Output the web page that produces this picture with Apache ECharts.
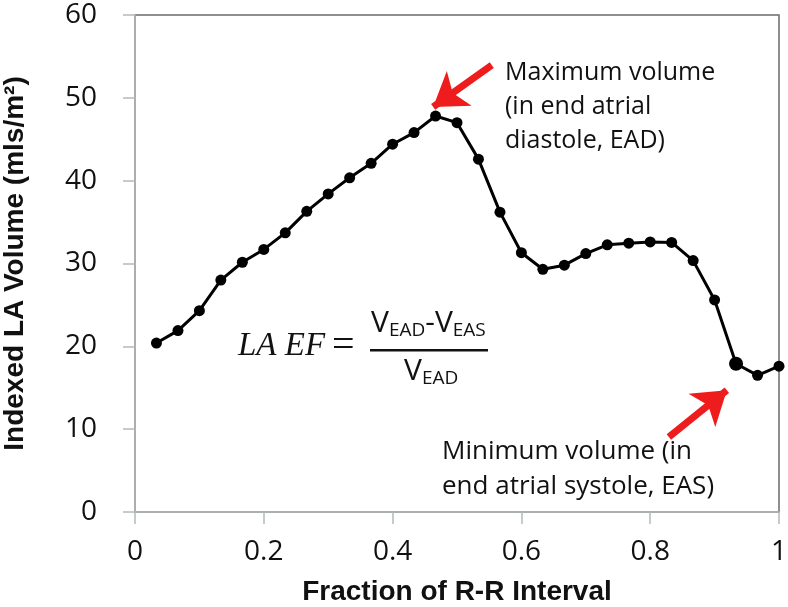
<!DOCTYPE html>
<html>
<head>
<meta charset="utf-8">
<script src="https://cdn.jsdelivr.net/npm/echarts@6/dist/echarts.min.js"></script>
<style>html,body{margin:0;padding:0;background:#fff}#c{width:788px;height:607px}</style>
</head>
<body>
<div id="c"></div>
<script>
// Fraction of R-R interval (x) and indexed LA volume (y)
const fractions = [0.0333, 0.0667, 0.1, 0.1333, 0.1667, 0.2, 0.2333, 0.2667, 0.3, 0.3333,
                   0.3667, 0.4, 0.4333, 0.4667, 0.5, 0.5333, 0.5667, 0.6, 0.6333, 0.6667,
                   0.7, 0.7333, 0.7667, 0.8, 0.8333, 0.8667, 0.9, 0.9333, 0.9667, 1.0];
const volumes = [20.4, 21.9, 24.3, 28.0, 30.15, 31.7, 33.7, 36.3, 38.4, 40.35,
                 42.1, 44.4, 45.8, 47.8, 47.0, 42.6, 36.2, 31.3, 29.3, 29.8,
                 31.2, 32.25, 32.45, 32.6, 32.55, 30.35, 25.6, 17.9, 16.5, 17.6];
const minIndex = 27;
const xTicks = ['0', '0.2', '0.4', '0.6', '0.8', '1'];
const yTicks = ['0', '10', '20', '30', '40', '50', '60'];
const arrowMax = [[0.554, 53.95], [0.463, 48.9]];
const arrowMin = [[0.829, 9.06], [0.919, 14.7]];
const maxNote = ['Maximum volume', '(in end atrial', 'diastole, EAD)'];
const minNote = ['Minimum volume (in', 'end atrial systole, EAS)'];

const chart = echarts.init(document.getElementById('c'));
const pts = fractions.map((x, i) => ({
  value: [x, volumes[i]],
  symbolSize: i === minIndex ? 14 : 11
}));
const labelFont = '"Open Sans", sans-serif';
const titleStyle = { fontFamily: '"Liberation Sans", Arial, sans-serif', fontWeight: 'bold', fontSize: 28, color: '#111' };
const subRich = { s: { fontSize: 19, fontFamily: '"Open Sans", sans-serif', padding: [16, 0, 0, 0], color: '#111' } };
const option = {
  animation: false,
  backgroundColor: '#fff',
  grid: { left: 135, right: 9, top: 15, bottom: 95, show: true, borderColor: '#6a6a6a', borderWidth: 1.5,
          containLabel: false, outerBoundsMode: 'none' },
  xAxis: {
    type: 'value', min: 0, max: 1, interval: 0.2,
    name: 'Fraction of R-R Interval', nameLocation: 'middle', nameGap: 66,
    nameTextStyle: titleStyle,
    axisLine: { show: true, lineStyle: { color: '#b4b9b9', width: 1.5 } },
    axisTick: { show: true, inside: false, length: 12, lineStyle: { color: '#b4b9b9', width: 1.5 } },
    axisLabel: { margin: 26, fontSize: 28, fontFamily: labelFont, color: '#111',
      formatter: v => xTicks[Math.round(v / 0.2)] },
    splitLine: { show: false }
  },
  yAxis: {
    type: 'value', min: 0, max: 60, interval: 10,
    name: 'Indexed LA Volume (mls/m²)', nameLocation: 'middle', nameGap: 106,
    nameTextStyle: titleStyle,
    axisLine: { show: true, lineStyle: { color: '#b4b9b9', width: 1.5 } },
    axisTick: { show: true, inside: false, length: 12, lineStyle: { color: '#b4b9b9', width: 1.5 } },
    axisLabel: { margin: 38, fontSize: 28, fontFamily: labelFont, color: '#111',
      formatter: v => yTicks[Math.round(v / 10)] },
    splitLine: { show: false }
  },
  series: [{
    type: 'line',
    data: pts,
    symbol: 'circle',
    itemStyle: { color: '#000' },
    lineStyle: { color: '#000', width: 3 },
    z: 3,
    markLine: {
      silent: true,
      symbol: ['none', 'arrow'],
      symbolSize: 32,
      label: { show: false },
      lineStyle: { color: '#ee1c1c', width: 7, type: 'solid', opacity: 1 },
      itemStyle: { color: '#ee1c1c' },
      data: [
        [{ coord: arrowMax[0] }, { coord: arrowMax[1] }],
        [{ coord: arrowMin[0] }, { coord: arrowMin[1] }]
      ]
    }
  }],
  graphic: [
    { type: 'text', left: 505, top: 56, style: { text: maxNote.join('\n'), font: '25px "Open Sans", sans-serif', fill: '#111', lineHeight: 34 } },
    { type: 'text', left: 442, top: 434, style: { text: minNote.join('\n'), font: '26px "Open Sans", sans-serif', fill: '#111', lineHeight: 35 } },
    { type: 'text', left: 238, top: 330, style: { text: 'LA EF', font: 'italic 33px "Liberation Serif", "DejaVu Serif", serif', fill: '#111' } },
    { type: 'text', left: 332, top: 326, style: { text: '=', font: '40px "Liberation Serif", serif', fill: '#111' } },
    { type: 'text', left: 371, top: 308, style: {
        text: 'V{s|EAD}-V{s|EAS}', fill: '#111',
        font: '30px "Open Sans", sans-serif',
        rich: subRich
      } },
    { type: 'rect', shape: { x: 370, y: 349, width: 118, height: 2.5 }, style: { fill: '#111' } },
    { type: 'text', left: 404, top: 356, style: {
        text: 'V{s|EAD}', fill: '#111',
        font: '30px "Open Sans", sans-serif',
        rich: subRich
      } }
  ]
};
chart.setOption(option);
</script>
</body>
</html>
